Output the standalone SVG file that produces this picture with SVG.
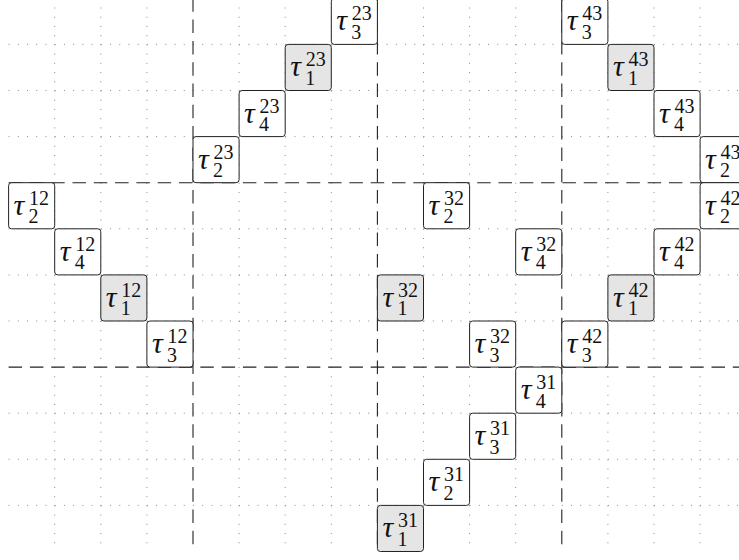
<svg xmlns="http://www.w3.org/2000/svg" width="739" height="560" viewBox="0 0 739 560">
<style>
.dot{stroke:#8a8a8a;stroke-width:1;stroke-dasharray:1 8.22;fill:none}
.dash{stroke:#222;stroke-width:1.1;stroke-dasharray:13.5 7.8;fill:none}
.box{fill:#fff;stroke:#222;stroke-width:1}
.box.g{fill:#e5e5e5}
.lbl{font-family:"Liberation Serif","DejaVu Serif",serif;fill:#111}
.m{font-size:30px;font-style:italic}
.s{font-size:20px}
</style>
<rect width="739" height="560" fill="#fff"/>
<g id="grid">
<path class="dot" d="M54.7 -1.7V551.5M100.8 -1.7V551.5M146.9 -1.7V551.5M239.1 -1.7V551.5M285.2 -1.7V551.5M331.3 -1.7V551.5M423.5 -1.7V551.5M469.6 -1.7V551.5M515.7 -1.7V551.5M607.9 -1.7V551.5M654 -1.7V551.5M700.1 -1.7V551.5"/>
<path class="dot" d="M8.6 44.4H746M8.6 90.5H746M8.6 136.6H746M8.6 228.8H746M8.6 274.9H746M8.6 321H746M8.6 413.2H746M8.6 459.3H746M8.6 505.4H746"/>
</g>
<g id="connectors">
<path class="dash" d="M193 -1.7V551.5M377.4 -1.7V551.5M561.8 -1.7V551.5"/>
<path class="dash" d="M8.6 182.7H746M8.6 367.1H746"/>
</g>
<g id="n23_3" transform="translate(331.3,-1.7)"><rect class="box" width="46.1" height="46.1" rx="3"/><text class="lbl"><tspan class="m" x="5" y="32">τ</tspan><tspan class="s" x="20.5" y="22">23</tspan><tspan class="s" x="20" y="40.5">3</tspan></text></g>
<g id="n23_1" transform="translate(285.2,44.4)"><rect class="box g" width="46.1" height="46.1" rx="3"/><text class="lbl"><tspan class="m" x="5" y="32">τ</tspan><tspan class="s" x="20.5" y="22">23</tspan><tspan class="s" x="20" y="40.5">1</tspan></text></g>
<g id="n23_4" transform="translate(239.1,90.5)"><rect class="box" width="46.1" height="46.1" rx="3"/><text class="lbl"><tspan class="m" x="5" y="32">τ</tspan><tspan class="s" x="20.5" y="22">23</tspan><tspan class="s" x="20" y="40.5">4</tspan></text></g>
<g id="n23_2" transform="translate(193,136.6)"><rect class="box" width="46.1" height="46.1" rx="3"/><text class="lbl"><tspan class="m" x="5" y="32">τ</tspan><tspan class="s" x="20.5" y="22">23</tspan><tspan class="s" x="20" y="40.5">2</tspan></text></g>
<g id="n12_2" transform="translate(8.6,182.7)"><rect class="box" width="46.1" height="46.1" rx="3"/><text class="lbl"><tspan class="m" x="5" y="32">τ</tspan><tspan class="s" x="20.5" y="22">12</tspan><tspan class="s" x="20" y="40.5">2</tspan></text></g>
<g id="n12_4" transform="translate(54.7,228.8)"><rect class="box" width="46.1" height="46.1" rx="3"/><text class="lbl"><tspan class="m" x="5" y="32">τ</tspan><tspan class="s" x="20.5" y="22">12</tspan><tspan class="s" x="20" y="40.5">4</tspan></text></g>
<g id="n12_1" transform="translate(100.8,274.9)"><rect class="box g" width="46.1" height="46.1" rx="3"/><text class="lbl"><tspan class="m" x="5" y="32">τ</tspan><tspan class="s" x="20.5" y="22">12</tspan><tspan class="s" x="20" y="40.5">1</tspan></text></g>
<g id="n12_3" transform="translate(146.9,321)"><rect class="box" width="46.1" height="46.1" rx="3"/><text class="lbl"><tspan class="m" x="5" y="32">τ</tspan><tspan class="s" x="20.5" y="22">12</tspan><tspan class="s" x="20" y="40.5">3</tspan></text></g>
<g id="n43_3" transform="translate(561.8,-1.7)"><rect class="box" width="46.1" height="46.1" rx="3"/><text class="lbl"><tspan class="m" x="5" y="32">τ</tspan><tspan class="s" x="20.5" y="22">43</tspan><tspan class="s" x="20" y="40.5">3</tspan></text></g>
<g id="n43_1" transform="translate(607.9,44.4)"><rect class="box g" width="46.1" height="46.1" rx="3"/><text class="lbl"><tspan class="m" x="5" y="32">τ</tspan><tspan class="s" x="20.5" y="22">43</tspan><tspan class="s" x="20" y="40.5">1</tspan></text></g>
<g id="n43_4" transform="translate(654,90.5)"><rect class="box" width="46.1" height="46.1" rx="3"/><text class="lbl"><tspan class="m" x="5" y="32">τ</tspan><tspan class="s" x="20.5" y="22">43</tspan><tspan class="s" x="20" y="40.5">4</tspan></text></g>
<g id="n43_2" transform="translate(700.1,136.6)"><rect class="box" width="46.1" height="46.1" rx="3"/><text class="lbl"><tspan class="m" x="5" y="32">τ</tspan><tspan class="s" x="20.5" y="22">43</tspan><tspan class="s" x="20" y="40.5">2</tspan></text></g>
<g id="n42_2" transform="translate(700.1,182.7)"><rect class="box" width="46.1" height="46.1" rx="3"/><text class="lbl"><tspan class="m" x="5" y="32">τ</tspan><tspan class="s" x="20.5" y="22">42</tspan><tspan class="s" x="20" y="40.5">2</tspan></text></g>
<g id="n42_4" transform="translate(654,228.8)"><rect class="box" width="46.1" height="46.1" rx="3"/><text class="lbl"><tspan class="m" x="5" y="32">τ</tspan><tspan class="s" x="20.5" y="22">42</tspan><tspan class="s" x="20" y="40.5">4</tspan></text></g>
<g id="n42_1" transform="translate(607.9,274.9)"><rect class="box g" width="46.1" height="46.1" rx="3"/><text class="lbl"><tspan class="m" x="5" y="32">τ</tspan><tspan class="s" x="20.5" y="22">42</tspan><tspan class="s" x="20" y="40.5">1</tspan></text></g>
<g id="n42_3" transform="translate(561.8,321)"><rect class="box" width="46.1" height="46.1" rx="3"/><text class="lbl"><tspan class="m" x="5" y="32">τ</tspan><tspan class="s" x="20.5" y="22">42</tspan><tspan class="s" x="20" y="40.5">3</tspan></text></g>
<g id="n32_2" transform="translate(423.5,182.7)"><rect class="box" width="46.1" height="46.1" rx="3"/><text class="lbl"><tspan class="m" x="5" y="32">τ</tspan><tspan class="s" x="20.5" y="22">32</tspan><tspan class="s" x="20" y="40.5">2</tspan></text></g>
<g id="n32_4" transform="translate(515.7,228.8)"><rect class="box" width="46.1" height="46.1" rx="3"/><text class="lbl"><tspan class="m" x="5" y="32">τ</tspan><tspan class="s" x="20.5" y="22">32</tspan><tspan class="s" x="20" y="40.5">4</tspan></text></g>
<g id="n32_1" transform="translate(377.4,274.9)"><rect class="box g" width="46.1" height="46.1" rx="3"/><text class="lbl"><tspan class="m" x="5" y="32">τ</tspan><tspan class="s" x="20.5" y="22">32</tspan><tspan class="s" x="20" y="40.5">1</tspan></text></g>
<g id="n32_3" transform="translate(469.6,321)"><rect class="box" width="46.1" height="46.1" rx="3"/><text class="lbl"><tspan class="m" x="5" y="32">τ</tspan><tspan class="s" x="20.5" y="22">32</tspan><tspan class="s" x="20" y="40.5">3</tspan></text></g>
<g id="n31_4" transform="translate(515.7,367.1)"><rect class="box" width="46.1" height="46.1" rx="3"/><text class="lbl"><tspan class="m" x="5" y="32">τ</tspan><tspan class="s" x="20.5" y="22">31</tspan><tspan class="s" x="20" y="40.5">4</tspan></text></g>
<g id="n31_3" transform="translate(469.6,413.2)"><rect class="box" width="46.1" height="46.1" rx="3"/><text class="lbl"><tspan class="m" x="5" y="32">τ</tspan><tspan class="s" x="20.5" y="22">31</tspan><tspan class="s" x="20" y="40.5">3</tspan></text></g>
<g id="n31_2" transform="translate(423.5,459.3)"><rect class="box" width="46.1" height="46.1" rx="3"/><text class="lbl"><tspan class="m" x="5" y="32">τ</tspan><tspan class="s" x="20.5" y="22">31</tspan><tspan class="s" x="20" y="40.5">2</tspan></text></g>
<g id="n31_1" transform="translate(377.4,505.4)"><rect class="box g" width="46.1" height="46.1" rx="3"/><text class="lbl"><tspan class="m" x="5" y="32">τ</tspan><tspan class="s" x="20.5" y="22">31</tspan><tspan class="s" x="20" y="40.5">1</tspan></text></g>
</svg>
